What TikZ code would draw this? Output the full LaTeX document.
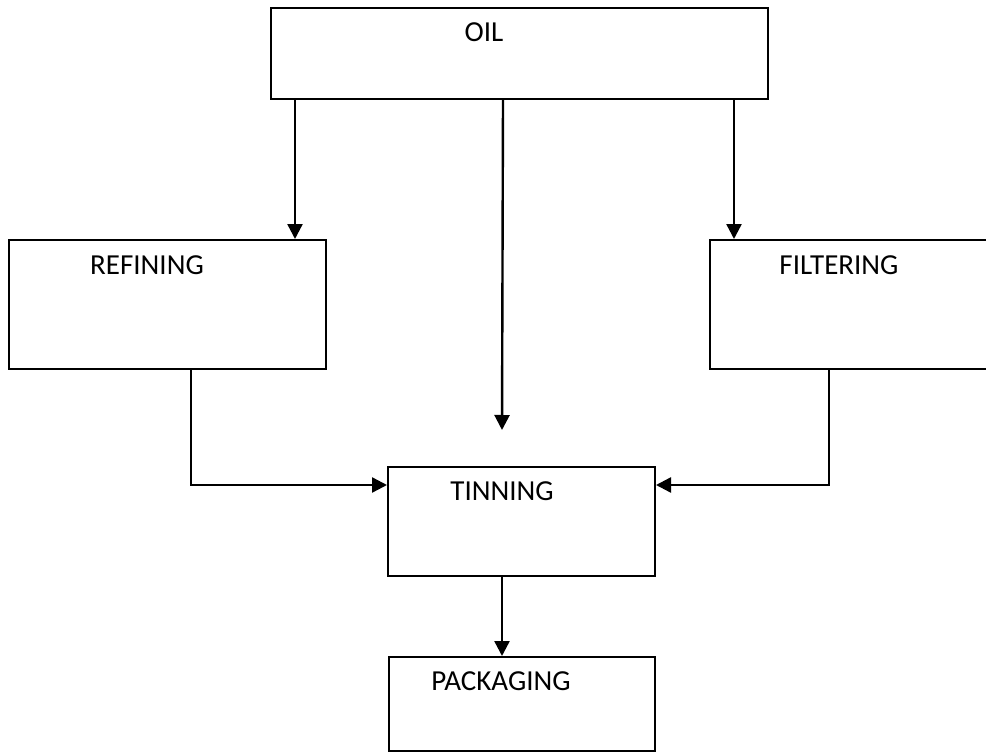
\documentclass[tikz,border=0pt]{standalone}
\usepackage{fontspec}
\setmainfont{Carlito}
\usetikzlibrary{arrows.meta}
\tikzset{
  box/.style={draw=black, line width=2pt, minimum width=#1, inner sep=0pt},
  flow/.style={draw=black, line width=2.4pt, -{Triangle[length=15pt,width=15pt]}},
  lbl/.style={anchor=base, inner sep=0pt, font=\fontsize{29}{34}\selectfont}
}
\begin{document}
\begin{tikzpicture}[x=1pt,y=-1pt]
\useasboundingbox (0,0) rectangle (986,752);
\fill[white] (0,0) rectangle (986,752);

% process boxes
\node[box=497pt, minimum height=91pt]  (oil)       at (519.5,53.5) {};
\node[box=317pt, minimum height=129pt] (refining)  at (167.5,304.5) {};
\node[box=290pt, minimum height=129pt] (filtering) at (855,304.5) {};
\node[box=267pt, minimum height=109pt] (tinning)   at (521.5,521.5) {};
\node[box=266pt, minimum height=94pt]  (packaging) at (522,704) {};

% box captions
\node[lbl] (toil)       at (484,42)  {OIL};
\node[lbl] (trefining)  at (147,274) {REFINING};
\node[lbl] (tfiltering) at (839,274) {FILTERING};
\node[lbl] (ttinning)   at (502,500) {TINNING};
\node[lbl] (tpackaging) at (501,690) {PACKAGING};

% direct feed from oil towards tinning
\coordinate (feedend) at (502,430);

% connectors
\draw[flow] ([xshift=25pt]oil.south west) -- ([xshift=25pt]oil.south west |- refining.north);
\draw[flow] ([xshift=233pt]oil.south west) -- (feedend);
\draw[flow] ([xshift=-35pt]oil.south east) -- ([xshift=-35pt]oil.south east |- filtering.north);
\draw[flow] ([xshift=183pt]refining.south west) |- ([yshift=36.5pt]tinning.west);
\draw[flow] ([xshift=120pt]filtering.south west) |- ([yshift=36.5pt]tinning.east);
\draw[flow] ([xshift=-19.5pt]tinning.south) -- ([xshift=-19.5pt]tinning.south |- packaging.north);
\end{tikzpicture}
\end{document}
